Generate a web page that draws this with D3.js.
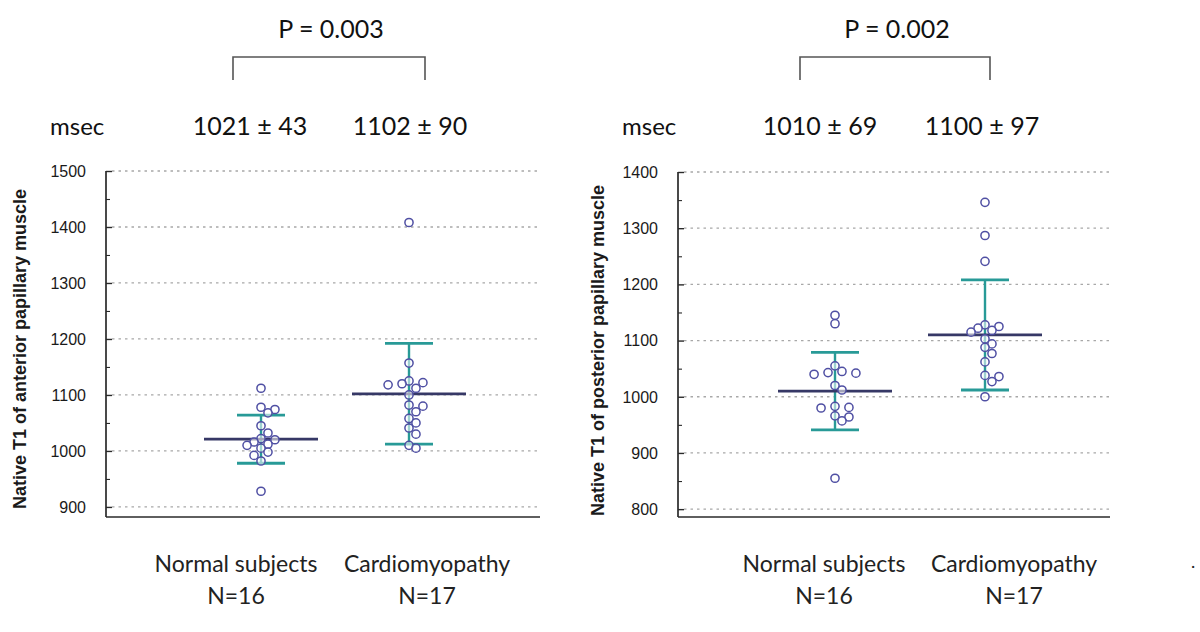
<!DOCTYPE html>
<html>
<head>
<meta charset="utf-8">
<script src="https://cdn.jsdelivr.net/npm/d3@7"></script>
<style>
  html, body { margin: 0; padding: 0; background: #fff; }
  svg { display: block; }
</style>
</head>
<body>
<svg id="chart" width="1200" height="632"></svg>
<script>
// ---------------- data ----------------
const categories = ["Normal subjects", "Cardiomyopathy"];
const groupSizes = ["N=16", "N=17"];
const unitLabel = "msec";

const anteriorNormal = [1112, 1078, 1074, 1068, 1045, 1032, 1022, 1020, 1016, 1012, 1010, 1005, 998, 992, 982, 928];
const anteriorCardio = [1408, 1157, 1125, 1122, 1120, 1118, 1112, 1100, 1082, 1080, 1070, 1058, 1050, 1041, 1030, 1010, 1005];
const anteriorMean = [1021, 1102];
const anteriorSD = [43, 90];
const anteriorStats = ["1021 ± 43", "1102 ± 90"];
const anteriorP = "P = 0.003";
const anteriorTitle = "Native T1 of anterior papillary muscle";
const anteriorTicks = [900, 1000, 1100, 1200, 1300, 1400, 1500];
const anteriorMinorTicks = [950, 1050, 1150, 1250, 1350, 1450];

const posteriorNormal = [1145, 1130, 1055, 1045, 1043, 1042, 1040, 1020, 1012, 983, 981, 980, 966, 964, 957, 855];
const posteriorCardio = [1346, 1287, 1241, 1128, 1125, 1122, 1118, 1115, 1103, 1094, 1088, 1077, 1062, 1038, 1036, 1027, 1000];
const posteriorMean = [1010, 1110];
const posteriorSD = [69, 98];
const posteriorStats = ["1010 ± 69", "1100 ± 97"];
const posteriorP = "P = 0.002";
const posteriorTitle = "Native T1 of posterior papillary muscle";
const posteriorTicks = [800, 900, 1000, 1100, 1200, 1300, 1400];
const posteriorMinorTicks = [850, 950, 1050, 1150, 1250, 1350];

// ---------------- layout / style ----------------
const svg = d3.select("#chart");
const FONT_TXT = "Lato, 'Open Sans', sans-serif";
const FONT_AX = "'Liberation Sans', Arial, sans-serif";
const C_POINT = "#4f4fa3";
const C_MEAN = "#363866";
const C_SD = "#289a97";
const C_AXIS = "#2a2a2a";
const C_GRID = "#a8a8a8";

const panels = [
  {
    axisX: 106, endX: 540, catX: [261, 409], yDomain: [882, 1500], yRange: [517, 171],
    groups: [anteriorNormal, anteriorCardio], mean: anteriorMean, sd: anteriorSD,
    stats: anteriorStats, p: anteriorP, title: anteriorTitle,
    ticks: anteriorTicks, minor: anteriorMinorTicks,
    bracket: [233, 425], statX: [250, 410], titleX: 20, labelX: [236, 427]
  },
  {
    axisX: 678, endX: 1110, catX: [835, 985], yDomain: [786, 1400], yRange: [517, 172],
    groups: [posteriorNormal, posteriorCardio], mean: posteriorMean, sd: posteriorSD,
    stats: posteriorStats, p: posteriorP, title: posteriorTitle,
    ticks: posteriorTicks, minor: posteriorMinorTicks,
    bracket: [800, 990], statX: [820, 982], titleX: 598, labelX: [824, 1014]
  }
];

const R = 4.1;

function dodge(values, y, cx) {
  const sorted = values.map(v => ({ v, y: y(v) })).sort((a, b) => a.y - b.y);
  const placed = [];
  const minD = 2 * R * 0.9;
  const step = 2 * R * 0.85;
  const offs = [0];
  for (let i = 1; i < 10; i++) { offs.push(i * step, -i * step); }
  sorted.forEach(p => {
    for (const o of offs) {
      const x = cx + o;
      if (placed.every(q => Math.hypot(q.x - x, q.y - p.y) >= minD)) { p.x = x; break; }
    }
    if (p.x === undefined) p.x = cx;
    placed.push(p);
  });
  return placed;
}

panels.forEach(P => {
  const g = svg.append("g");
  const y = d3.scaleLinear().domain(P.yDomain).range(P.yRange);
  const x = d3.scalePoint().domain(categories).range(P.catX).padding(0);

  // gridlines
  g.selectAll(".grid").data(P.ticks).join("line")
    .attr("x1", P.axisX + 6).attr("x2", P.endX)
    .attr("y1", d => y(d)).attr("y2", d => y(d))
    .attr("stroke", C_GRID).attr("stroke-width", 1.3)
    .attr("stroke-dasharray", "2.5,4");

  // y axis ticks (pointing inward)
  const yAxis = d3.axisRight(y).tickValues(P.ticks).tickSize(6).tickFormat("");
  const ya = g.append("g").attr("transform", `translate(${P.axisX},0)`).call(yAxis);
  ya.select(".domain").remove();
  ya.selectAll("line").attr("stroke", C_AXIS).attr("stroke-width", 1.4);
  const yMinor = d3.axisRight(y).tickValues(P.minor).tickSize(4).tickFormat("");
  const ym = g.append("g").attr("transform", `translate(${P.axisX},0)`).call(yMinor);
  ym.select(".domain").remove();
  ym.selectAll("line").attr("stroke", C_AXIS).attr("stroke-width", 1.1);

  // tick labels
  g.selectAll(".tl").data(P.ticks).join("text")
    .attr("x", P.axisX - 20).attr("y", d => y(d)).attr("dy", "0.36em")
    .attr("text-anchor", "end").attr("font-family", FONT_AX).attr("font-size", 16)
    .attr("fill", "#1a1a1a").text(d => d);

  // axis lines
  g.append("line").attr("x1", P.axisX).attr("x2", P.axisX)
    .attr("y1", y(P.ticks[P.ticks.length - 1])).attr("y2", P.yRange[0])
    .attr("stroke", C_AXIS).attr("stroke-width", 1.7);
  g.append("line").attr("x1", P.axisX).attr("x2", P.endX)
    .attr("y1", P.yRange[0]).attr("y2", P.yRange[0])
    .attr("stroke", C_AXIS).attr("stroke-width", 1.7);

  // y title
  const mid = (y(P.ticks[0]) + y(P.ticks[P.ticks.length - 1])) / 2 + 10;
  g.append("text")
    .attr("transform", `translate(${P.titleX},${mid}) rotate(-90)`)
    .attr("text-anchor", "middle").attr("dy", "0.35em")
    .attr("font-family", FONT_AX).attr("font-size", 18).attr("font-weight", "bold")
    .attr("fill", "#1a1a1a").text(P.title);

  // SD whiskers and mean lines
  categories.forEach((c, i) => {
    const cx = x(c);
    const hi = y(P.mean[i] + P.sd[i]), lo = y(P.mean[i] - P.sd[i]);
    g.append("line").attr("x1", cx).attr("x2", cx).attr("y1", hi).attr("y2", lo)
      .attr("stroke", C_SD).attr("stroke-width", 2.4);
    [hi, lo].forEach(yy => {
      g.append("line").attr("x1", cx - 24).attr("x2", cx + 24).attr("y1", yy).attr("y2", yy)
        .attr("stroke", C_SD).attr("stroke-width", 2.8);
    });
    g.append("line").attr("x1", cx - 57).attr("x2", cx + 57)
      .attr("y1", y(P.mean[i])).attr("y2", y(P.mean[i]))
      .attr("stroke", C_MEAN).attr("stroke-width", 2.8);
  });

  // points
  categories.forEach((c, i) => {
    const pts = dodge(P.groups[i], y, x(c));
    g.selectAll(null).data(pts).join("circle")
      .attr("cx", d => d.x).attr("cy", d => d.y).attr("r", R)
      .attr("fill", "#fff").attr("fill-opacity", 0.55)
      .attr("stroke", C_POINT).attr("stroke-width", 1.5);
  });

  // category labels
  categories.forEach((c, i) => {
    const lx = P.labelX[i];
    g.append("text").attr("x", lx).attr("y", 572)
      .attr("text-anchor", "middle").attr("font-family", FONT_TXT).attr("font-size", 23)
      .attr("fill", "#222").text(c);
    g.append("text").attr("x", lx).attr("y", 604)
      .attr("text-anchor", "middle").attr("font-family", FONT_TXT).attr("font-size", 23)
      .attr("fill", "#222").text(groupSizes[i]);
  });

  // stats
  P.stats.forEach((s, i) => {
    g.append("text").attr("x", P.statX[i]).attr("y", 135)
      .attr("text-anchor", "middle").attr("font-family", FONT_TXT).attr("font-size", 25)
      .attr("fill", "#111").text(s);
  });
  g.append("text").attr("x", P.axisX - 56).attr("y", 135)
    .attr("font-family", FONT_TXT).attr("font-size", 24).attr("fill", "#111").text(unitLabel);

  // bracket and p value
  const [b0, b1] = P.bracket;
  g.append("path").attr("d", `M${b0},80 V57 H${b1} V80`)
    .attr("fill", "none").attr("stroke", "#555").attr("stroke-width", 1.6);
  g.append("text").attr("x", (b0 + b1) / 2 + 2).attr("y", 38)
    .attr("text-anchor", "middle").attr("font-family", FONT_TXT).attr("font-size", 25)
    .attr("fill", "#111").text(P.p);
});

svg.append("text").attr("x", 1191).attr("y", 568).attr("font-family", FONT_TXT)
  .attr("font-size", 18).attr("fill", "#222").text(".");
</script>
</body>
</html>
